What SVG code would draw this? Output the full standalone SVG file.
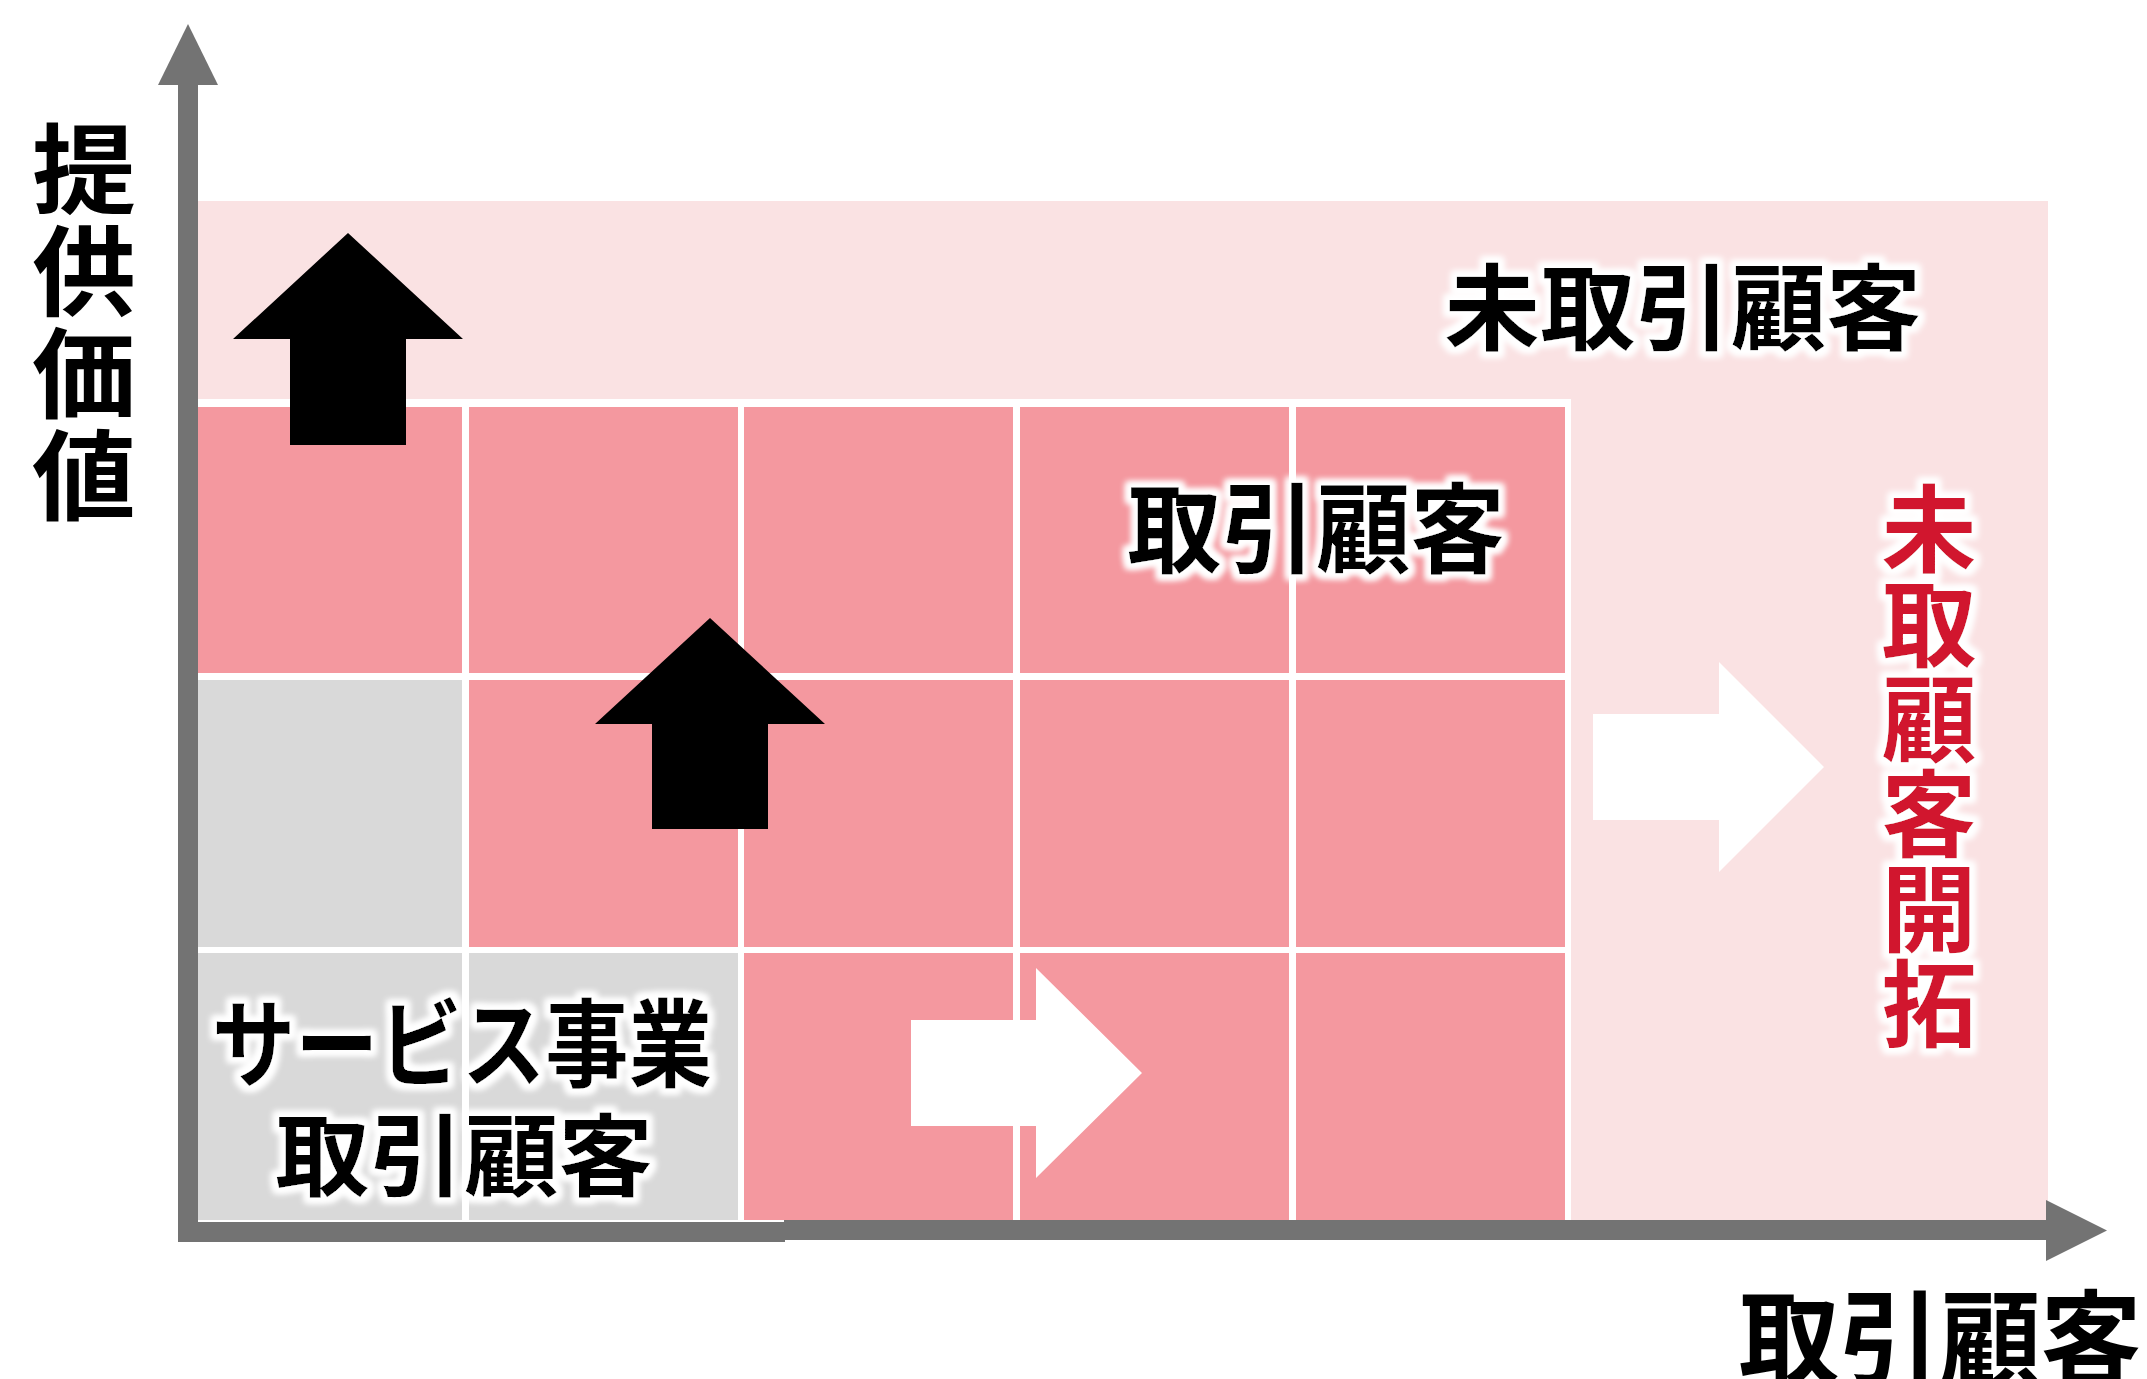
<svg xmlns="http://www.w3.org/2000/svg" width="2147" height="1379" viewBox="0 0 2147 1379">
<style>
.jp{font-family:"Noto Sans CJK JP","Noto Sans CJK SC",sans-serif;font-weight:700;}
.vt{writing-mode:vertical-rl;text-orientation:upright;}
.blk{fill:#000;}
.red{fill:#D1152E;}
.pink{fill:#F4989F;}
.gray{fill:#D9D9D9;}
.axis{fill:#737373;}
</style>
<defs>
<filter id="glow" x="-30%" y="-10%" width="160%" height="120%">
<feMorphology in="SourceAlpha" operator="dilate" radius="5" result="d"/>
<feGaussianBlur in="d" stdDeviation="3" result="b"/>
<feFlood flood-color="#ffffff"/>
<feComposite in2="b" operator="in" result="w"/>
<feMerge><feMergeNode in="w"/><feMergeNode in="w"/><feMergeNode in="SourceGraphic"/></feMerge>
</filter>
</defs>
<rect width="2147" height="1379" fill="#fff"/>
<g id="background">
<rect x="198" y="201" width="1850" height="1019" fill="#FAE2E3"/>
</g>
<g id="grid">
<rect x="198" y="399" width="1373" height="821" fill="#fff"/>
<rect class="pink" x="198" y="407" width="264" height="266"/>
<rect class="pink" x="469" y="407" width="269" height="266"/>
<rect class="pink" x="744" y="407" width="269" height="266"/>
<rect class="pink" x="1020" y="407" width="269" height="266"/>
<rect class="pink" x="1296" y="407" width="269" height="266"/>
<rect class="gray" x="198" y="680" width="264" height="267"/>
<rect class="pink" x="469" y="680" width="269" height="267"/>
<rect class="pink" x="744" y="680" width="269" height="267"/>
<rect class="pink" x="1020" y="680" width="269" height="267"/>
<rect class="pink" x="1296" y="680" width="269" height="267"/>
<rect class="gray" x="198" y="953" width="264" height="267"/>
<rect class="gray" x="469" y="953" width="269" height="267"/>
<rect class="pink" x="744" y="953" width="269" height="267"/>
<rect class="pink" x="1020" y="953" width="269" height="267"/>
<rect class="pink" x="1296" y="953" width="269" height="267"/>
</g>
<g id="axes">
<rect class="axis" x="178" y="84" width="20" height="1158"/>
<polygon class="axis" points="188,24 218,85 158,85"/>
<rect class="axis" x="178" y="1222" width="607" height="20"/>
<rect class="axis" x="784" y="1220" width="1264" height="20"/>
<polygon class="axis" points="2046,1200 2107,1230.5 2046,1261"/>
</g>
<g id="connectors">
<polygon class="blk" points="348,233 463,339 406,339 406,445 290,445 290,339 233,339"/>
<polygon class="blk" points="710,618 825,724 768,724 768,829 652,829 652,724 595,724"/>
<polygon fill="#fff" points="911,1020 1036,1020 1036,968 1142,1073 1036,1178 1036,1126 911,1126"/>
<polygon fill="#fff" points="1593,714 1719,714 1719,662 1824,767 1719,872 1719,820 1593,820"/>
</g>
<g id="label-y-axis">
<text class="jp blk vt" x="0" y="120" font-size="98" letter-spacing="4" transform="translate(84,0) scale(1.06,1)">提供価値</text>
</g>
<g id="label-x-axis">
<text class="jp blk" x="1940" y="1378" font-size="104" text-anchor="middle" textLength="403" lengthAdjust="spacingAndGlyphs">取引顧客</text>
</g>
<g id="label-untraded" filter="url(#glow)">
<text class="jp blk" x="1683" y="343" font-size="94" text-anchor="middle" textLength="477" lengthAdjust="spacingAndGlyphs">未取引顧客</text>
</g>
<g id="label-traded" filter="url(#glow)">
<text class="jp blk" x="1316" y="565" font-size="98" text-anchor="middle" textLength="378" lengthAdjust="spacingAndGlyphs">取引顧客</text>
</g>
<g id="label-service" filter="url(#glow)">
<text class="jp blk" x="462" y="1079" font-size="96" text-anchor="middle" textLength="500" lengthAdjust="spacingAndGlyphs">サービス事業</text>
<text class="jp blk" x="464" y="1189" font-size="90" text-anchor="middle" textLength="378" lengthAdjust="spacingAndGlyphs">取引顧客</text>
</g>
<g id="label-development" filter="url(#glow)">
<text class="jp red vt" x="1929" y="481" font-size="95">未取顧客開拓</text>
</g>
</svg>
